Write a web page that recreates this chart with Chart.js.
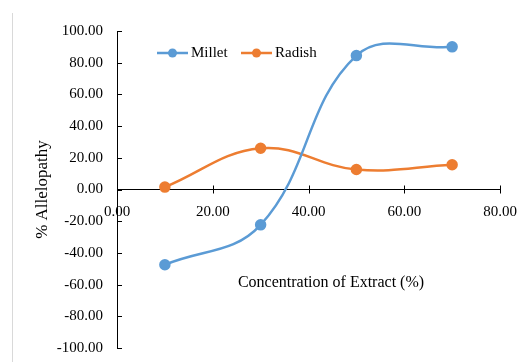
<!DOCTYPE html>
<html>
<head>
<meta charset="utf-8">
<script src="https://cdn.jsdelivr.net/npm/chart.js@4"></script>
<style>
  html, body { margin: 0; padding: 0; background: #fff; }
  #wrap { width: 521px; height: 362px; }
</style>
</head>
<body>
<div id="wrap"><canvas id="chart" width="521" height="362"></canvas></div>
<script>
// data
const concentration = [10, 30, 50, 70];
const millet = [-47.5, -22.3, 84.5, 90.0];
const radish = [1.5, 26.0, 12.6, 15.6];
const xTicks = [0, 20, 40, 60, 80];
const yTicks = [-100, -80, -60, -40, -20, 0, 20, 40, 60, 80, 100];

const FONT = "'Liberation Serif', 'Times New Roman', serif";
const BLUE = '#5B9BD5';
const ORANGE = '#ED7D31';

function toPoints(ys) {
  return concentration.map((x, i) => ({ x: x, y: ys[i] }));
}

// ticks, legend, x title and the frame line drawn by hand
const extras = {
  id: 'extras',
  afterDraw(chart) {
    const ctx = chart.ctx;
    const xs = chart.scales.x;
    const ys = chart.scales.y;
    const y0 = ys.getPixelForValue(0);
    const left = chart.chartArea.left;

    ctx.save();
    // grey frame on the left
    ctx.strokeStyle = '#d9d9d9';
    ctx.lineWidth = 1;
    ctx.beginPath();
    ctx.moveTo(12.5, 13);
    ctx.lineTo(12.5, 362);
    ctx.stroke();

    // tick marks
    ctx.strokeStyle = '#000';
    ctx.lineWidth = 1;
    ctx.beginPath();
    xTicks.forEach(v => {
      if (v === 0) return;
      const px = Math.round(xs.getPixelForValue(v)) + 0.5;
      ctx.moveTo(px, y0 - 4);
      ctx.lineTo(px, y0 + 4);
    });
    yTicks.forEach(v => {
      const py = Math.round(ys.getPixelForValue(v)) + 0.5;
      ctx.moveTo(left, py);
      ctx.lineTo(left + 5, py);
    });
    ctx.stroke();

    // x axis title
    ctx.fillStyle = '#000';
    ctx.font = '16px ' + FONT;
    ctx.textAlign = 'center';
    ctx.textBaseline = 'middle';
    ctx.fillText('Concentration of Extract (%)', 331, 283);

    // legend
    ctx.font = '15px ' + FONT;
    const starts = [157, 241];
    chart.data.datasets.forEach((ds, i) => {
      const x0 = starts[i];
      const ly = 53;
      ctx.strokeStyle = ds.borderColor;
      ctx.lineWidth = 2.5;
      ctx.beginPath();
      ctx.moveTo(x0, ly);
      ctx.lineTo(x0 + 31, ly);
      ctx.stroke();
      ctx.fillStyle = ds.backgroundColor;
      ctx.beginPath();
      ctx.arc(x0 + 15.5, ly, 4.5, 0, Math.PI * 2);
      ctx.fill();
      ctx.fillStyle = '#000';
      ctx.textAlign = 'left';
      ctx.fillText(ds.label, x0 + 34, ly);
    });
    ctx.restore();
  }
};

function noPad(s) {
  s.paddingLeft = 0;
  s.paddingRight = 0;
  s.paddingTop = 0;
  s.paddingBottom = 0;
}

const ctx = document.getElementById('chart').getContext('2d');
new Chart(ctx, {
  type: 'scatter',
  data: {
    datasets: [{
      label: 'Millet',
      data: toPoints(millet),
      borderColor: BLUE,
      backgroundColor: BLUE,
      showLine: true,
      tension: 0.4,
      borderWidth: 2.5,
      pointRadius: 4.5,
      pointHoverRadius: 4.5
    }, {
      label: 'Radish',
      data: toPoints(radish),
      borderColor: ORANGE,
      backgroundColor: ORANGE,
      showLine: true,
      tension: 0.4,
      borderWidth: 2.5,
      pointRadius: 4.5,
      pointHoverRadius: 4.5
    }]
  },
  options: {
    responsive: false,
    animation: false,
    layout: { padding: { top: 31, bottom: 14, left: 12, right: 21 } },
    plugins: {
      legend: { display: false },
      tooltip: { enabled: false }
    },
    scales: {
      x: {
        type: 'linear',
        position: { y: 0 },
        min: 0,
        max: 80,
        afterBuildTicks: s => { s.ticks = xTicks.map(v => ({ value: v })); },
        afterFit: noPad,
        grid: { drawOnChartArea: false, drawTicks: false },
        border: { display: true, color: '#000', width: 1 },
        ticks: {
          padding: 14,
          maxRotation: 0,
          color: '#000',
          font: { family: FONT, size: 15 },
          callback: v => v.toFixed(2)
        }
      },
      y: {
        type: 'linear',
        min: -100,
        max: 100,
        afterBuildTicks: s => { s.ticks = yTicks.map(v => ({ value: v })); },
        afterFit: s => { s.width = 105; noPad(s); },
        grid: { drawOnChartArea: false, drawTicks: false },
        border: { display: true, color: '#000', width: 1 },
        ticks: {
          padding: 14,
          color: '#000',
          font: { family: FONT, size: 15 },
          callback: v => v.toFixed(2)
        },
        title: {
          display: true,
          text: '% Allelopathy',
          color: '#000',
          font: { family: FONT, size: 17 },
          padding: { top: 20, bottom: 0 }
        }
      }
    }
  },
  plugins: [extras]
});
</script>
</body>
</html>
